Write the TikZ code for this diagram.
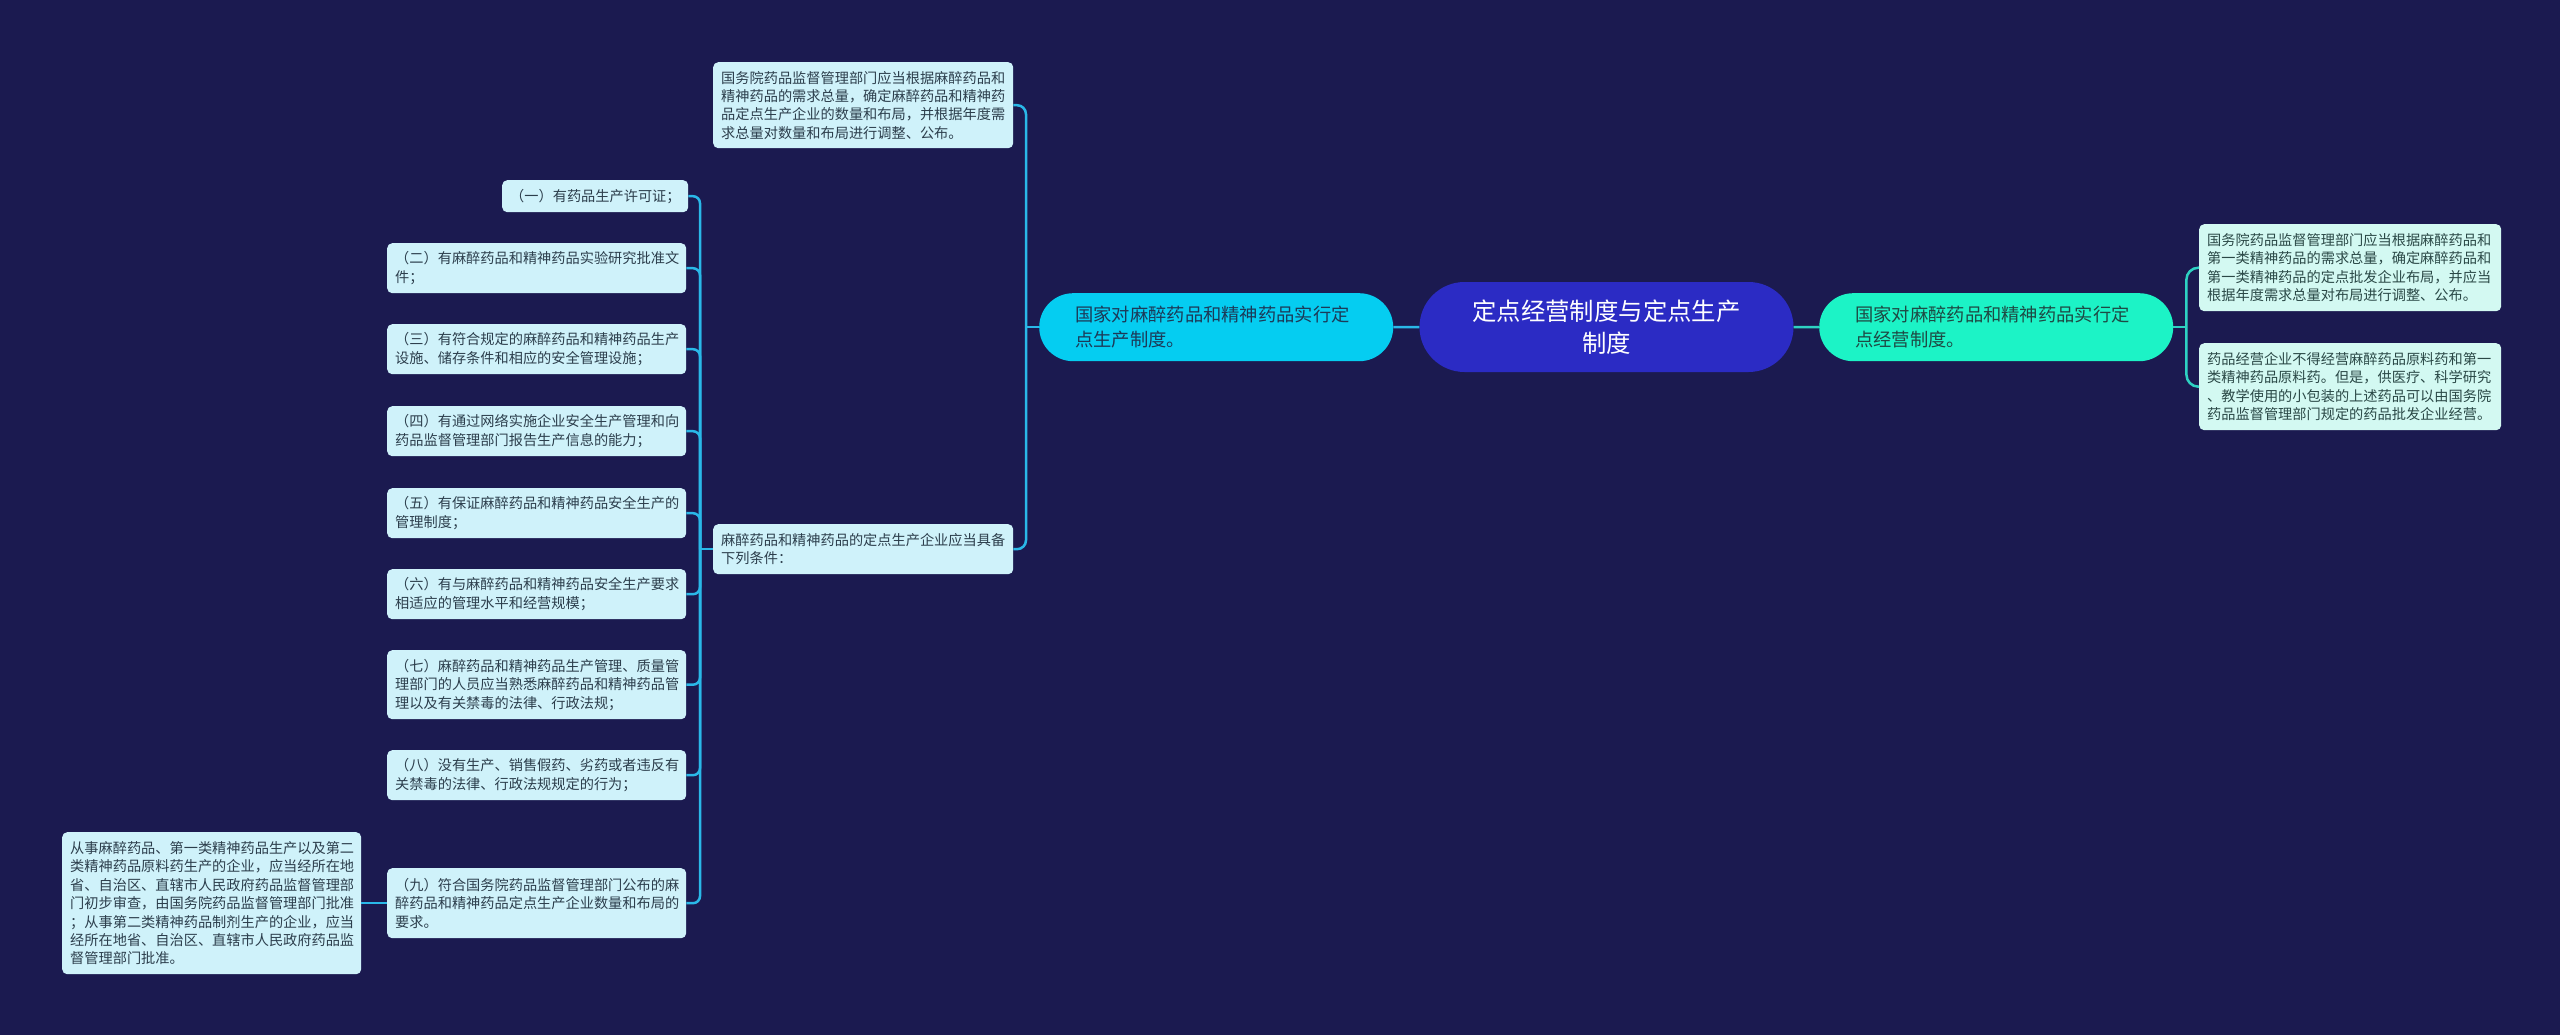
\documentclass[tikz,border=0pt]{standalone}
\usepackage{fontspec}
\setmainfont{Noto Sans CJK SC}
\usetikzlibrary{calc}
\definecolor{bgc}{HTML}{1B1A50}
\definecolor{leafL}{HTML}{CFF2FA}
\definecolor{leafR}{HTML}{D3F9F2}
\definecolor{mainL}{HTML}{05CDF1}
\definecolor{mainR}{HTML}{1CF3C6}
\definecolor{centc}{HTML}{2B2BC4}
\definecolor{lineL}{HTML}{2AB8E8}
\definecolor{lineR}{HTML}{2ED2C2}
\definecolor{txtL}{HTML}{2C3E4C}
\definecolor{txtR}{HTML}{2A4846}
\definecolor{txtML}{HTML}{1C3A58}
\definecolor{txtMR}{HTML}{1E4A44}
\tikzset{
  leafbox/.style={draw=none, rounded corners=5pt, anchor=north west, align=left,
    inner xsep=8pt, inner ysep=0pt, text=txtL,
    font=\fontsize{14.2}{18.4}\selectfont},
  leafl/.style={leafbox, fill=leafL},
  leafr/.style={leafbox, fill=leafR, text=txtR},
  mainbox/.style={rounded corners=34pt, minimum height=68pt, anchor=north west,
    align=left, text width=282pt, inner xsep=36pt, inner ysep=0pt,
    font=\fontsize{18.3}{25}\selectfont},
  centbox/.style={rounded corners=45pt, fill=centc, minimum height=90pt,
    minimum width=374pt, align=center, text=white, inner ysep=0pt,
    font=\fontsize{24.4}{32}\selectfont},
  connL/.style={draw=lineL, line width=2.5pt},
  connR/.style={draw=lineR, line width=2.5pt},
}
\begin{document}
\begin{tikzpicture}[x=1pt,y=-1pt]
\fill[bgc] (0,0) rectangle (2560,1035);
\useasboundingbox (0,0) rectangle (2560,1035);

% center
\node[centbox] (C) at (1606.5,327) {定点经营制度与定点生产\\制度};

% main nodes
\node[mainbox, fill=mainL, text=txtML] (ML) at (1039,293) {国家对麻醉药品和精神药品实行定\\点生产制度。};
\node[mainbox, fill=mainR, text=txtMR] (MR) at (1819,293) {国家对麻醉药品和精神药品实行定\\点经营制度。};

% right leaves
\node[leafr, text width=286pt, minimum height=87pt] (R1) at (2199,224) {国务院药品监督管理部门应当根据麻醉药品和\\第一类精神药品的需求总量，确定麻醉药品和\\第一类精神药品的定点批发企业布局，并应当\\根据年度需求总量对布局进行调整、公布。};
\node[leafr, text width=286pt, minimum height=87pt] (R2) at (2199,343) {药品经营企业不得经营麻醉药品原料药和第一\\类精神药品原料药。但是，供医疗、科学研究\\、教学使用的小包装的上述药品可以由国务院\\药品监督管理部门规定的药品批发企业经营。};

% left leaves
\node[leafl, text width=284pt, minimum height=86pt] (L1) at (713,62) {国务院药品监督管理部门应当根据麻醉药品和\\精神药品的需求总量，确定麻醉药品和精神药\\品定点生产企业的数量和布局，并根据年度需\\求总量对数量和布局进行调整、公布。};
\node[leafl, text width=284pt, minimum height=50pt] (L2) at (713,524) {麻醉药品和精神药品的定点生产企业应当具备\\下列条件：};

% conditions
\node[leafl, text width=170pt, minimum height=32pt] (c1) at (502,180) {（一）有药品生产许可证；};
\node[leafl, text width=283pt, minimum height=50pt] (c2) at (387,243) {（二）有麻醉药品和精神药品实验研究批准文\\件；};
\node[leafl, text width=283pt, minimum height=50pt] (c3) at (387,324) {（三）有符合规定的麻醉药品和精神药品生产\\设施、储存条件和相应的安全管理设施；};
\node[leafl, text width=283pt, minimum height=50pt] (c4) at (387,406) {（四）有通过网络实施企业安全生产管理和向\\药品监督管理部门报告生产信息的能力；};
\node[leafl, text width=283pt, minimum height=50pt] (c5) at (387,488) {（五）有保证麻醉药品和精神药品安全生产的\\管理制度；};
\node[leafl, text width=283pt, minimum height=50pt] (c6) at (387,569) {（六）有与麻醉药品和精神药品安全生产要求\\相适应的管理水平和经营规模；};
\node[leafl, text width=283pt, minimum height=69pt] (c7) at (387,650) {（七）麻醉药品和精神药品生产管理、质量管\\理部门的人员应当熟悉麻醉药品和精神药品管\\理以及有关禁毒的法律、行政法规；};
\node[leafl, text width=283pt, minimum height=50pt] (c8) at (387,750) {（八）没有生产、销售假药、劣药或者违反有\\关禁毒的法律、行政法规规定的行为；};
\node[leafl, text width=283pt, minimum height=70pt] (c9) at (387,868) {（九）符合国务院药品监督管理部门公布的麻\\醉药品和精神药品定点生产企业数量和布局的\\要求。};

% far left
\node[leafl, text width=283pt, minimum height=142pt] (F) at (62,832) {从事麻醉药品、第一类精神药品生产以及第二\\类精神药品原料药生产的企业，应当经所在地\\省、自治区、直辖市人民政府药品监督管理部\\门初步审查，由国务院药品监督管理部门批准\\；从事第二类精神药品制剂生产的企业，应当\\经所在地省、自治区、直辖市人民政府药品监\\督管理部门批准。};

% junctions
\coordinate (jL) at ($(ML.west)+(-13,0)$);
\coordinate (jR) at ($(MR.east)+(13,0)$);
\coordinate (jC) at ($(L2.west)+(-13,0)$);

% connectors
\draw[connL] (C.west) -- (ML.east);
\draw[connR] (C.east) -- (MR.west);

\draw[connL] (ML.west) -- (jL);
\draw[connL, rounded corners=9pt] (jL) |- (L1.east);
\draw[connL, rounded corners=9pt] (jL) |- (L2.east);

\draw[connR] (MR.east) -- (jR);
\draw[connR, rounded corners=12pt] (jR) |- (R1.west);
\draw[connR, rounded corners=12pt] (jR) |- (R2.west);

\draw[connL] (L2.west) -- (jC);
\foreach \c in {c1,c2,c3,c4,c5,c6,c7,c8,c9}{
  \draw[connL, rounded corners=7pt] (jC) |- (\c.east);
}
\draw[connL] (c9.west) -- (F.east);
\end{tikzpicture}
\end{document}
